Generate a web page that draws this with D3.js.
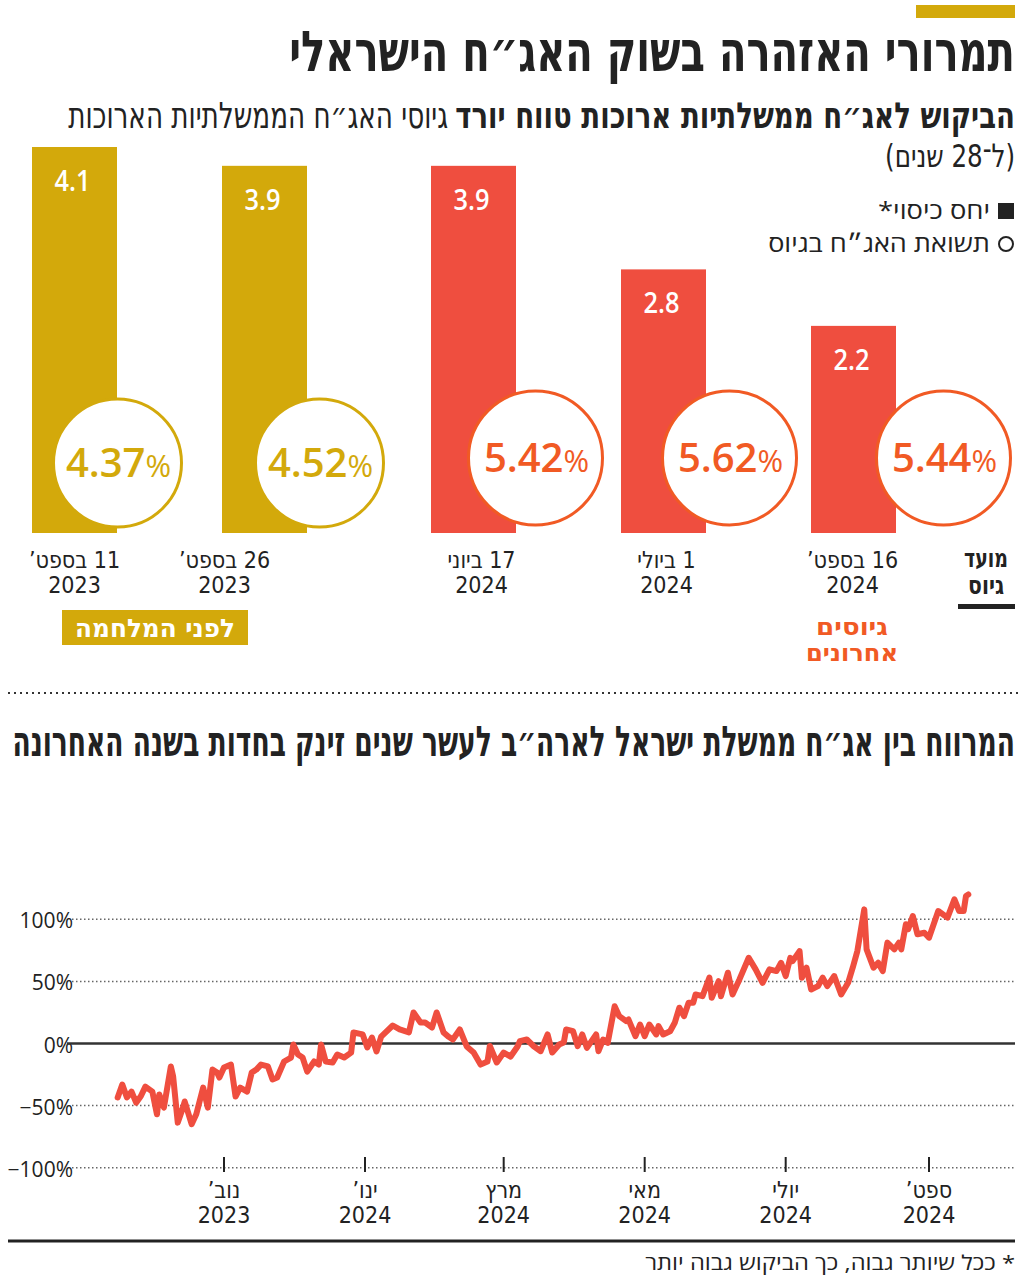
<!DOCTYPE html>
<html><head><meta charset="utf-8">
<script src="https://cdn.jsdelivr.net/npm/d3@7/dist/d3.min.js"></script>
<style>body{margin:0;background:#fff}svg{display:block}</style>
</head><body><div id="chart"></div>
<script>
// ---------- DATA ----------
const titleText = "תמרורי האזהרה בשוק האג״ח הישראלי";
const subtitleBold = "הביקוש לאג״ח ממשלתיות ארוכות טווח יורד";
const subtitleRegular = "גיוסי האג״ח הממשלתיות הארוכות";
const subtitleLine2 = "(ל־28 שנים)";
const legendLabels = ["יחס כיסוי*", "תשואת האג״ח בגיוס"];

const barDates = ["11 בספט’", "26 בספט’", "17 ביוני", "1 ביולי", "16 בספט’"];
const barYears = ["2023", "2023", "2024", "2024", "2024"];
const barGroup = ["before", "before", "recent", "recent", "recent"];
const coverRatio = [4.1, 3.9, 3.9, 2.8, 2.2];
const issueYield = [4.37, 4.52, 5.42, 5.62, 5.44];
const groupLabels = { before: "לפני המלחמה", recent: ["גיוסים", "אחרונים"] };
const dateHeader = ["מועד", "גיוס"];

const chart2Title = "המרווח בין אג״ח ממשלת ישראל לארה״ב לעשר שנים זינק בחדות בשנה האחרונה";
const yTicks = [100, 50, 0, -50, -100];
const xTickDates = ["2023-11-01", "2024-01-01", "2024-03-01", "2024-05-01", "2024-07-01", "2024-09-01"];
const xTickMonths = ["נוב’", "ינו’", "מרץ", "מאי", "יולי", "ספט’"];
const xTickYears = ["2023", "2024", "2024", "2024", "2024", "2024"];

const spreadDates = [
"2023-09-16","2023-09-18","2023-09-20","2023-09-22","2023-09-24","2023-09-26","2023-09-28","2023-10-01","2023-10-03","2023-10-04",
"2023-10-06","2023-10-09","2023-10-10","2023-10-12","2023-10-14","2023-10-15","2023-10-18","2023-10-20","2023-10-23","2023-10-25",
"2023-10-27","2023-10-29","2023-10-30","2023-11-01","2023-11-04","2023-11-06","2023-11-08","2023-11-11","2023-11-13","2023-11-15",
"2023-11-17","2023-11-20","2023-11-22","2023-11-24","2023-11-27","2023-11-30","2023-12-01","2023-12-03","2023-12-05","2023-12-07",
"2023-12-10","2023-12-12","2023-12-13","2023-12-15","2023-12-18","2023-12-20","2023-12-23","2023-12-26","2023-12-27","2023-12-31",
"2024-01-02","2024-01-04","2024-01-06","2024-01-08","2024-01-13","2024-01-16","2024-01-20","2024-01-22","2024-01-25","2024-01-27",
"2024-01-30","2024-02-01","2024-02-04","2024-02-06","2024-02-08","2024-02-11","2024-02-14","2024-02-17","2024-02-20","2024-02-23",
"2024-02-24","2024-02-27","2024-03-01","2024-03-04","2024-03-07","2024-03-08","2024-03-11","2024-03-14","2024-03-17","2024-03-20",
"2024-03-22","2024-03-25","2024-03-27","2024-03-28","2024-03-31","2024-04-02","2024-04-04","2024-04-06","2024-04-08","2024-04-10",
"2024-04-11","2024-04-13","2024-04-15","2024-04-18","2024-04-20","2024-04-23","2024-04-24","2024-04-27","2024-04-29","2024-05-01",
"2024-05-03","2024-05-06","2024-05-07","2024-05-09","2024-05-12","2024-05-14","2024-05-16","2024-05-18","2024-05-20","2024-05-22",
"2024-05-23","2024-05-26","2024-05-29","2024-05-30","2024-06-02","2024-06-03","2024-06-06","2024-06-08","2024-06-11","2024-06-15",
"2024-06-18","2024-06-21","2024-06-24","2024-06-27","2024-06-29","2024-07-01","2024-07-03","2024-07-04","2024-07-07","2024-07-08",
"2024-07-10","2024-07-12","2024-07-15","2024-07-17","2024-07-19","2024-07-22","2024-07-25","2024-07-28","2024-07-30","2024-08-01",
"2024-08-04","2024-08-05","2024-08-08","2024-08-10","2024-08-12","2024-08-14","2024-08-17","2024-08-19","2024-08-20","2024-08-22",
"2024-08-23","2024-08-25","2024-08-27","2024-08-30","2024-09-01","2024-09-05","2024-09-09","2024-09-12","2024-09-14","2024-09-16",
"2024-09-17","2024-09-18"];
const spreadValues = [
-43.5,-33,-43.5,-38.7,-47.6,-42.5,-34.7,-38.7,-57,-41,
-51.6,-18.5,-26.6,-63.7,-53,-46.7,-65,-57,-35.5,-51.6,
-21,-23.4,-27.4,-19.3,-17,-42.7,-35.5,-38.7,-23.4,-21,
-17,-18.5,-29,-27.4,-14.5,-11.3,-0.8,-8.9,-11.3,-22.6,
-14.5,-17,-0.8,-14.5,-15.3,-8.9,-11.3,-7.3,8.9,7.3,
-3.2,4.8,-6.4,5.6,14.5,11.3,8.9,25,16.9,16.9,
12.9,25,8.9,5.6,3.2,11.3,-2.4,-7.3,-17,-14.5,
-2,-15.3,-7.3,-10.5,-2.4,1.9,3.2,-2.2,-6.2,7.3,
-7.3,-0.8,0.8,11.3,9.9,-2.2,7.3,-3.5,1.9,7.3,
-6.2,3.2,0.5,30,22,18,19.3,5.9,15.3,5.9,
15.3,7.3,14,7.3,9.9,16.7,28.8,22,32.8,32.8,
39.5,38.1,53,36.8,50.2,38.1,57,39.5,51.6,69,
59.7,48.9,59.7,58.3,65,54.3,69,66.3,74.4,53,
61,43.5,46.2,53,46.2,54.3,39.5,48.9,61,74.4,
108,75.8,61,65,58.3,81.2,75.8,81.2,75.8,96,
92,102.6,88,89.2,85.2,106.7,101.3,116,106.7,106.7,
118.8,120];
const footnote = "* ככל שיותר גבוה, כך הביקוש גבוה יותר";

// ---------- STYLE / LAYOUT ----------
const W = 1024, H = 1282;
const GOLD = "#d3a90b", RED = "#ef4e3f", ORANGE = "#f15a24", INK = "#222";
const HEB = "'DejaVu Sans Condensed','Liberation Sans',sans-serif";
const HEB_REG = "'Open Sans','Liberation Sans','DejaVu Sans',sans-serif";
const NUM = "'Open Sans','Noto Sans',sans-serif";
const circleShift = [43, 55, 62, 66, 90];   // circle centre offset from bar centre (layout)
const labelShift = [0, -40, 8, 3, -1];       // date label offset from bar centre (layout)

const svg = d3.select("#chart").append("svg").attr("width", W).attr("height", H);

// right-to-left text; when a target width is given the text is condensed horizontally to fit it
function rtext(x, y, str, o = {}) {
  const t = svg.append("text").attr("x", x).attr("y", y)
    .attr("direction", "rtl").attr("text-anchor", o.anchor || "start")
    .style("font-family", o.font || HEB).style("font-size", o.size + "px")
    .style("font-weight", o.weight || 400).attr("fill", o.fill || INK).text(str);
  if (o.len) {
    const nat = t.node().getComputedTextLength();
    const s = nat > 0 ? o.len / nat : 1;
    t.attr("x", 0).attr("y", 0).attr("transform", `translate(${x},${y}) scale(${s},1)`);
  }
  return t;
}

// ---------- HEADER ----------
svg.append("rect").attr("x", 916).attr("y", 5).attr("width", 99).attr("height", 13).attr("fill", GOLD);
rtext(1015, 71, titleText, { size: 56, weight: 700, len: 726 });
rtext(1015, 128, subtitleBold, { size: 36, weight: 700, len: 560 });
rtext(448, 128, subtitleRegular, { size: 36, len: 380 });
rtext(1015, 167, subtitleLine2, { size: 32, len: 130 });

// legend
svg.append("rect").attr("x", 998).attr("y", 203).attr("width", 16).attr("height", 16).attr("fill", INK);
rtext(990, 219, legendLabels[0], { size: 24, font: HEB_REG, len: 112 });
svg.append("circle").attr("cx", 1006).attr("cy", 244).attr("r", 7).attr("fill", "none").attr("stroke", INK).attr("stroke-width", 2);
rtext(990, 252, legendLabels[1], { size: 24, font: HEB_REG, len: 222 });

// ---------- BAR CHART ----------
const groupIndex = g => (g === "recent" ? 1 : 0);
const slot = (d, i) => i + 0.1 * groupIndex(barGroup[i]);
const xBar = d3.scaleLinear().domain([0, 1]).range([32, 222]);
const barW = 85;
const yBar = d3.scaleLinear().domain([0, 4.1]).range([533, 147]);
const colorBar = d3.scaleOrdinal().domain(["before", "recent"]).range([GOLD, RED]);
const colorCircle = d3.scaleOrdinal().domain(["before", "recent"]).range([GOLD, ORANGE]);

const bars = svg.append("g");
bars.selectAll("rect").data(coverRatio).join("rect")
  .attr("x", (d, i) => xBar(slot(d, i)))
  .attr("y", d => yBar(d))
  .attr("width", barW)
  .attr("height", d => yBar(0) - yBar(d))
  .attr("fill", (d, i) => colorBar(barGroup[i]));

bars.selectAll("text.val").data(coverRatio).join("text").attr("class", "val")
  .attr("x", (d, i) => xBar(slot(d, i)) + barW / 2 - 2)
  .attr("y", d => yBar(d) + 44)
  .attr("text-anchor", "middle").attr("fill", "#fff")
  .style("font-family", NUM).style("font-size", "28px").style("font-weight", 600)
  .attr("textLength", 36).attr("lengthAdjust", "spacingAndGlyphs")
  .text(d => d.toFixed(1));

const circR = g => (g === "recent" ? 67 : 64);
const circY = g => (g === "recent" ? 458 : 463);
const circles = svg.append("g");
issueYield.forEach((v, i) => {
  const g = barGroup[i];
  const cx = xBar(slot(v, i)) + barW / 2 + circleShift[i];
  const cy = circY(g);
  circles.append("circle").attr("cx", cx).attr("cy", cy).attr("r", circR(g))
    .attr("fill", "#fff").attr("stroke", colorCircle(g)).attr("stroke-width", 3);
  const t = circles.append("text").attr("x", cx + 1).attr("y", cy + 14)
    .attr("text-anchor", "middle").attr("fill", colorCircle(g)).style("font-family", NUM);
  t.append("tspan").style("font-size", "40px").style("font-weight", 600).text(v.toFixed(2));
  t.append("tspan").style("font-size", "31px").style("font-weight", 400).text("%");
});

// date labels
barDates.forEach((d, i) => {
  const cx = xBar(slot(0, i)) + barW / 2 + labelShift[i];
  rtext(cx, 568, d, { size: 23, anchor: "middle" });
  rtext(cx, 593, barYears[i], { size: 23, anchor: "middle" });
});
rtext(986, 567, dateHeader[0], { size: 25, weight: 700, anchor: "middle", len: 44 });
rtext(986, 594, dateHeader[1], { size: 25, weight: 700, anchor: "middle", len: 36 });
svg.append("rect").attr("x", 958).attr("y", 604).attr("width", 57).attr("height", 5).attr("fill", INK);

// group labels
svg.append("rect").attr("x", 62).attr("y", 610).attr("width", 186).attr("height", 35).attr("fill", GOLD);
rtext(155, 637, groupLabels.before, { size: 25, weight: 700, anchor: "middle", fill: "#fff", len: 160 });
rtext(852, 635, groupLabels.recent[0], { size: 23, weight: 700, anchor: "middle", fill: ORANGE, len: 72 });
rtext(852, 661, groupLabels.recent[1], { size: 23, weight: 700, anchor: "middle", fill: ORANGE, len: 92 });

// separator
svg.append("line").attr("x1", 8).attr("x2", 1018).attr("y1", 693).attr("y2", 693)
  .attr("stroke", "#333").attr("stroke-width", 2).attr("stroke-dasharray", "2,4");

// ---------- LINE CHART ----------
rtext(1015, 756, chart2Title, { size: 42, weight: 700, len: 1003 });

const parse = d3.utcParse("%Y-%m-%d");
const xT = d3.scaleUtc().domain([parse("2023-11-01"), parse("2024-09-01")]).range([224, 929]);
const yS = d3.scaleLinear().domain([-100, 100]).range([1167.7, 919.3]);

const grid = svg.append("g");
yTicks.forEach(v => {
  if (v === 0) return;
  grid.append("line").attr("x1", 72).attr("x2", 1015).attr("y1", yS(v)).attr("y2", yS(v))
    .attr("stroke", "#666").attr("stroke-width", 1.5).attr("stroke-dasharray", "1.5,2.5");
});
yTicks.forEach(v => {
  svg.append("text").attr("x", 73).attr("y", yS(v) + 9).attr("text-anchor", "end")
    .style("font-family", NUM).style("font-size", "21px").attr("fill", INK)
    .text((v < 0 ? "\u2212" + Math.abs(v) : v) + "%");
});
// x ticks
xTickDates.forEach((d, i) => {
  const x = xT(parse(d));
  svg.append("line").attr("x1", x).attr("x2", x).attr("y1", 1157).attr("y2", 1172)
    .attr("stroke", INK).attr("stroke-width", 2);
  rtext(x, 1198, xTickMonths[i], { size: 23, anchor: "middle" });
  rtext(x, 1223, xTickYears[i], { size: 23, anchor: "middle" });
});

// zero line
svg.append("line").attr("x1", 67).attr("x2", 1015).attr("y1", yS(0)).attr("y2", yS(0))
  .attr("stroke", "#333").attr("stroke-width", 2.5);

const series = spreadDates.map((d, i) => ({ date: parse(d), value: spreadValues[i] }));
svg.append("path").datum(series)
  .attr("fill", "none").attr("stroke", RED).attr("stroke-width", 6)
  .attr("stroke-linejoin", "round").attr("stroke-linecap", "round")
  .attr("d", d3.line().x(d => xT(d.date)).y(d => yS(d.value)));

// bottom rule + footnote
svg.append("line").attr("x1", 8).attr("x2", 1015).attr("y1", 1241).attr("y2", 1241)
  .attr("stroke", INK).attr("stroke-width", 3);
rtext(1015, 1270, footnote, { size: 20, font: HEB_REG, len: 370 });
</script></body></html>
